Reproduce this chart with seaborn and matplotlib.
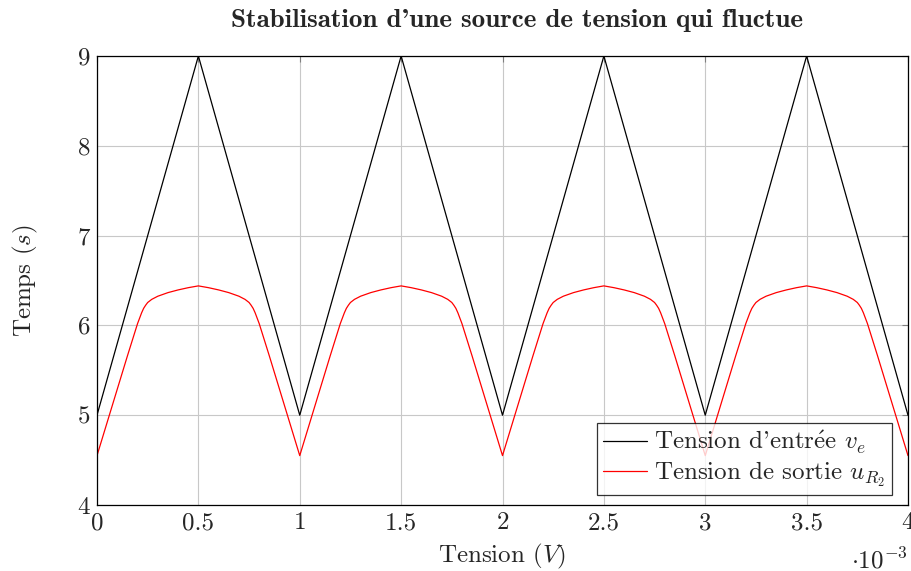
import matplotlib
matplotlib.use("Agg")
import matplotlib.pyplot as plt
import seaborn as sns
import pandas as pd

# Data (x in units of 1e-3)
x_in = [0, 0.5, 1.0, 1.5, 2.0, 2.5, 3.0, 3.5, 4.0]
v_in = [5, 9, 5, 9, 5, 9, 5, 9, 5]

x_out = [
    0.00, 0.05, 0.10, 0.15, 0.20, 0.21, 0.22, 0.23, 0.24, 0.25, 0.27, 0.30, 0.35, 0.40, 0.45,
    0.50, 0.55, 0.60, 0.65, 0.70, 0.73, 0.75, 0.76, 0.77, 0.78, 0.79, 0.80, 0.85, 0.90, 0.95,
    1.00, 1.05, 1.10, 1.15, 1.20, 1.21, 1.22, 1.23, 1.24, 1.25, 1.27, 1.30, 1.35, 1.40, 1.45,
    1.50, 1.55, 1.60, 1.65, 1.70, 1.73, 1.75, 1.76, 1.77, 1.78, 1.79, 1.80, 1.85, 1.90, 1.95,
    2.00, 2.05, 2.10, 2.15, 2.20, 2.21, 2.22, 2.23, 2.24, 2.25, 2.27, 2.30, 2.35, 2.40, 2.45,
    2.50, 2.55, 2.60, 2.65, 2.70, 2.73, 2.75, 2.76, 2.77, 2.78, 2.79, 2.80, 2.85, 2.90, 2.95,
    3.00, 3.05, 3.10, 3.15, 3.20, 3.21, 3.22, 3.23, 3.24, 3.25, 3.27, 3.30, 3.35, 3.40, 3.45,
    3.50, 3.55, 3.60, 3.65, 3.70, 3.73, 3.75, 3.76, 3.77, 3.78, 3.79, 3.80, 3.85, 3.90, 3.95,
    4.00,
]
u_out = [
    4.55, 4.92, 5.29, 5.66, 6.02, 6.08, 6.14, 6.19, 6.225, 6.255, 6.29, 6.325, 6.365, 6.395, 6.42,
    6.44, 6.42, 6.395, 6.365, 6.325, 6.29, 6.255, 6.225, 6.19, 6.14, 6.08, 6.02, 5.66, 5.29, 4.92,
    4.55, 4.92, 5.29, 5.66, 6.02, 6.08, 6.14, 6.19, 6.225, 6.255, 6.29, 6.325, 6.365, 6.395, 6.42,
    6.44, 6.42, 6.395, 6.365, 6.325, 6.29, 6.255, 6.225, 6.19, 6.14, 6.08, 6.02, 5.66, 5.29, 4.92,
    4.55, 4.92, 5.29, 5.66, 6.02, 6.08, 6.14, 6.19, 6.225, 6.255, 6.29, 6.325, 6.365, 6.395, 6.42,
    6.44, 6.42, 6.395, 6.365, 6.325, 6.29, 6.255, 6.225, 6.19, 6.14, 6.08, 6.02, 5.66, 5.29, 4.92,
    4.55, 4.92, 5.29, 5.66, 6.02, 6.08, 6.14, 6.19, 6.225, 6.255, 6.29, 6.325, 6.365, 6.395, 6.42,
    6.44, 6.42, 6.395, 6.365, 6.325, 6.29, 6.255, 6.225, 6.19, 6.14, 6.08, 6.02, 5.66, 5.29, 4.92,
    4.55,
]

x_ticks = [0, 0.5, 1, 1.5, 2, 2.5, 3, 3.5, 4]
x_tick_labels = ["0", "0.5", "1", "1.5", "2", "2.5", "3", "3.5", "4"]
y_ticks = [4, 5, 6, 7, 8, 9]
y_tick_labels = ["4", "5", "6", "7", "8", "9"]

sns.set_style("white")
plt.rcParams["font.family"] = ["cmr10", "DejaVu Serif"]
plt.rcParams["mathtext.fontset"] = "cm"
plt.rcParams["axes.unicode_minus"] = False

fig = plt.figure(figsize=(9.11, 5.71), dpi=100)
ax = fig.add_axes([97 / 911, 1 - 505 / 571, 811 / 911, 449 / 571])

df_in = pd.DataFrame({"x": x_in, "y": v_in})
df_out = pd.DataFrame({"x": x_out, "y": u_out})
sns.lineplot(data=df_in, x="x", y="y", ax=ax, color="black", linewidth=0.9,
             label=r"Tension d'entr$\acute{\mathrm{e}}$e $v_e$")
sns.lineplot(data=df_out, x="x", y="y", ax=ax, color="red", linewidth=0.9,
             label=r"Tension de sortie $u_{R_2}$")

ax.set_xlim(0, 4)
ax.set_ylim(4, 9)
ax.set_xticks(x_ticks)
ax.set_xticklabels(x_tick_labels)
ax.set_yticks(y_ticks)
ax.set_yticklabels(y_tick_labels)
ax.grid(True, color="#c8c8c8", linewidth=0.8)
ax.set_axisbelow(True)
ax.tick_params(axis="both", direction="in", length=4, width=0.8, color="#7f7f7f",
               labelsize=18, pad=5, top=True, right=True)
for s in ax.spines.values():
    s.set_color("black")
    s.set_linewidth(0.9)

ax.set_xlabel(r"Tension ($V$)", fontsize=18, labelpad=6)
ax.set_ylabel(r"Temps ($s$)", fontsize=18, labelpad=27)
ax.set_title("Stabilisation d'une source de tension qui fluctue",
             fontsize=19.5, family=["cmb10", "DejaVu Serif"], pad=21, x=0.518)
ax.text(1.0, -0.095, r"$\cdot10^{-3}$", transform=ax.transAxes, ha="right",
        va="top", fontsize=18)

leg = ax.legend(loc="lower right", fontsize=18, frameon=True, fancybox=False,
                bbox_to_anchor=(0.98, 0.022),
                borderaxespad=0.0, handlelength=1.75, handletextpad=0.3,
                borderpad=0.25, labelspacing=0.15)
leg.get_frame().set_edgecolor("black")
leg.get_frame().set_linewidth(0.9)

fig.savefig("out.png", dpi=100)
